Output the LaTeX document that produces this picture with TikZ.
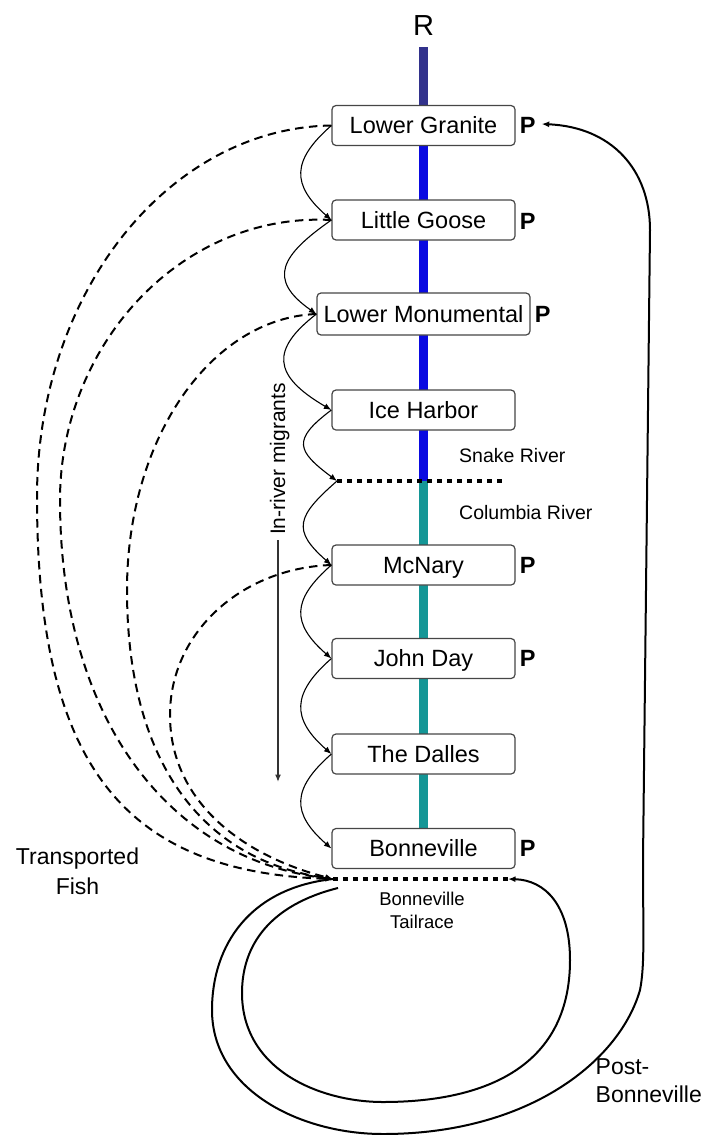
\documentclass[tikz,border=0pt]{standalone}
\usepackage{fontspec}
\setmainfont{Liberation Sans}
\usetikzlibrary{arrows.meta}
\pgfdeclarelayer{river}
\pgfsetlayers{river,main}
\definecolor{navyriver}{RGB}{50,50,140}
\definecolor{snakeblue}{RGB}{10,10,225}
\definecolor{columbiateal}{RGB}{20,150,150}
\definecolor{boxline}{RGB}{70,70,70}
\begin{document}
\begin{tikzpicture}[x=1pt,y=-1pt,
  dam/.style={draw=boxline, line width=1.2pt, rounded corners=4pt, fill=white,
    minimum width=183pt, minimum height=40pt, inner sep=2pt,
    text height=16.8pt, text depth=0pt, font=\fontsize{23.5}{26}\selectfont},
  pmark/.style={font=\fontsize{23.5}{26}\selectfont\bfseries, inner sep=0pt, anchor=west},
  tip/.style={-{Latex[length=7.5pt,width=6pt]}},
  hop/.style={tip, line width=1.1pt},
  haul/.style={tip, line width=2pt, dash pattern=on 8.5pt off 5.5pt},
  loopline/.style={tip, line width=2pt},
  dotline/.style={line width=4.5pt, dash pattern=on 4.5pt off 5.5pt},
  riverline/.style={line width=9.5pt},
  note/.style={inner sep=0pt}
]
\useasboundingbox (0,0) rectangle (706,1135);

% dams along the river, upstream to downstream
\node[dam] (lg)  at (423.5,125.5) {Lower Granite};
\node[dam] (gs)  at (423.5,220)   {Little Goose};
\node[dam, minimum width=213pt, minimum height=42pt] (lm) at (423.5,314) {Lower Monumental};
\node[dam] (ih)  at (423.5,410)   {Ice Harbor};
\node[dam] (mc)  at (423.5,565)   {McNary};
\node[dam] (jd)  at (423.5,658.5) {John Day};
\node[dam] (td)  at (423.5,754)   {The Dalles};
\node[dam] (bon) at (423.5,848.5) {Bonneville};

% P marks
\node[pmark] (plg) at ([xshift=4pt]lg.east) {P};
\node[pmark] (pgs) at ([xshift=4pt,yshift=-1pt]gs.east) {P};
\node[pmark] (plm) at ([xshift=4pt]lm.east) {P};
\node[pmark] (pmc) at ([xshift=4pt]mc.east) {P};
\node[pmark] (pjd) at ([xshift=4pt]jd.east) {P};
\node[pmark] (pbon) at ([xshift=4pt]bon.east) {P};

\node[note, font=\fontsize{29}{32}\selectfont] (rlab) at (423.5,25.5) {R};

% key points on the river
\coordinate (src) at (423.5,47);
\coordinate (jn)  at (423.5,481);
\coordinate (jnW) at (337,481);
\coordinate (jnE) at (505,481);
\coordinate (trA) at (333,879);
\coordinate (trB) at (338,888);
\coordinate (trE) at (508,879);

% river channel
\begin{pgfonlayer}{river}
  \draw[riverline, navyriver] (src) -- (lg.north);
  \draw[riverline, snakeblue] (lg.south) -- (jn);
  \draw[riverline, columbiateal] (jn) -- (bon.north);
\end{pgfonlayer}

% confluence and tailrace
\draw[dotline] (jnW) -- (jnE);
\draw[dotline] (trA) -- (trE);

\node[note, anchor=west, font=\fontsize{19.5}{22}\selectfont] (snake) at (459,456) {Snake River};
\node[note, anchor=west, font=\fontsize{19.5}{22}\selectfont] (colum) at (459,513) {Columbia River};
\node[note, align=center, font=\fontsize{18.5}{23}\selectfont] (tail) at (422,910) {Bonneville\\Tailrace};
\node[note, align=center, font=\fontsize{23}{30}\selectfont] (trans) at (77.5,871.5) {Transported\\Fish};
\node[note, anchor=north west, align=left, font=\fontsize{23}{28}\selectfont] (post) at (595.5,1058.5) {Post-\\Bonneville};

% in-river migration, dam to dam
\draw[hop] (lg.west) .. controls +(-40,35) and +(-40,-35) .. (gs.west);
\draw[hop] (gs.west) .. controls +(-50,35) and +(-50,-35) .. (lm.west);
\draw[hop] (lm.west) .. controls +(-45,35) and +(-60,-35) .. (ih.west);
\draw[hop] (ih.west) .. controls +(-40,30) and +(-40,-30) .. (jnW);
\draw[hop] (jnW) .. controls +(-40,35) and +(-40,-35) .. (mc.west);
\draw[hop] (mc.west) .. controls +(-40,35) and +(-40,-35) .. (jd.west);
\draw[hop] (jd.west) .. controls +(-40,35) and +(-40,-35) .. (td.west);
\draw[hop] (td.west) .. controls +(-40,35) and +(-40,-35) .. (bon.west);

% in-river migrants label and arrow
\coordinate (mgTop) at (278,540);
\coordinate (mgBot) at (278,782);
\draw[tip, line width=1.4pt, draw=black!80] (mgTop) -- (mgBot);
\node[note, rotate=90, anchor=base, font=\fontsize{21}{24}\selectfont] (mig) at (285,459) {In-river migrants};

% transported fish, barged to below Bonneville
\draw[haul] (lg.west) .. controls (169,128) and (37,292) .. (37,497)
            .. controls (37,760) and (120,872) .. (trA);
\draw[haul] (gs.west) .. controls (181,212) and (60,345) .. (60,500)
            .. controls (60,720) and (170,860) .. (trA);
\draw[haul] (lm.west) .. controls (211,318) and (127,438) .. (127,590)
            .. controls (127,760) and (200,860) .. (trA);
\draw[haul] (mc.west) .. controls (242,568) and (170,632) .. (170,715)
            .. controls (170,800) and (240,855) .. (trA);

% returns below Bonneville
\draw[loopline] (trB) .. controls (270,905) and (242,945) .. (242,993)
   .. controls (242,1070) and (320,1102) .. (383,1102)
   .. controls (480,1102) and (570,1070) .. (570,960)
   .. controls (570,905) and (545,880) .. (trE);
\draw[loopline] (trA) .. controls (250,888) and (212,945) .. (212,1010)
   .. controls (212,1090) and (300,1134) .. (383,1134)
   .. controls (530,1134) and (620,1060) .. (640,990)
   .. controls (645,965) and (643,930) .. (643,860)
   -- (650,230)
   .. controls (650,170) and (612,127) .. ([xshift=6pt,yshift=1.5pt]plg.east);
\end{tikzpicture}
\end{document}
